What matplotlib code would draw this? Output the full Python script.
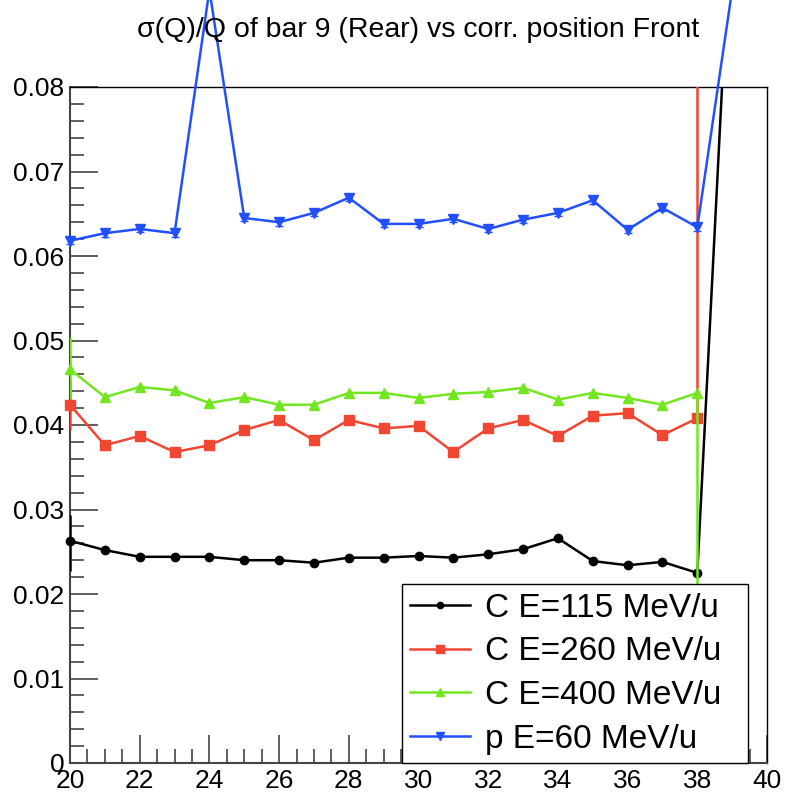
import matplotlib
matplotlib.use("Agg")
import matplotlib.pyplot as plt
from matplotlib.lines import Line2D
from matplotlib.ticker import MultipleLocator

plt.rcParams['font.family'] = ['Liberation Sans', 'DejaVu Sans']

# corrected position (Front), one point per bar position
positions = list(range(20, 39))
tail_x = 39

labels = ["C E=115 MeV/u", "C E=260 MeV/u", "C E=400 MeV/u", "p E=60 MeV/u"]

c115 = [0.0263, 0.0252, 0.0244, 0.0244, 0.0244, 0.0240, 0.0240, 0.0237, 0.0243, 0.0243,
        0.0245, 0.0243, 0.0247, 0.0253, 0.0266, 0.0239, 0.0234, 0.0238, 0.0225]
c260 = [0.0424, 0.0376, 0.0387, 0.0368, 0.0376, 0.0394, 0.0406, 0.0382, 0.0406, 0.0396,
        0.0399, 0.0368, 0.0396, 0.0406, 0.0387, 0.0411, 0.0414, 0.0388, 0.0408]
c400 = [0.0466, 0.0433, 0.0445, 0.0441, 0.0426, 0.0433, 0.0424, 0.0424, 0.0438, 0.0438,
        0.0432, 0.0437, 0.0439, 0.0444, 0.0430, 0.0438, 0.0432, 0.0424, 0.0438]
p60 = [0.0618, 0.0627, 0.0632, 0.0627, 0.0915, 0.0645, 0.0640, 0.0651, 0.0669, 0.0638,
       0.0638, 0.0644, 0.0632, 0.0643, 0.0651, 0.0666, 0.0631, 0.0657, 0.0634]

# values past the last bar (graph runs off the frame)
c115_tail = 0.1035
p60_tail = 0.0915

# errors (lower, upper)
c115_err = ([0.0036] + [0] * 18, [0.0030] + [0] * 18)
c260_err = ([0.0030] + [0] * 17 + [0], [0.0030] + [0] * 17 + [0.06])
c400_err = ([0.0035] + [0] * 17 + [0.03], [0.0038] + [0] * 17 + [0])
p60_err = [0.0004] * 19

colors = ['black', '#f04632', '#72e620', '#2250ff']
markers = ['o', 's', '^', 'v']
msizes = [6, 7, 7, 7]

fig = plt.figure(figsize=(7.86, 7.95), dpi=100)
ax = fig.add_axes([70 / 786, 1 - 763 / 795, (767 - 70) / 786, (763 - 87) / 795])

series = [c115, c260, c400, p60]
errs = [c115_err, c260_err, c400_err, p60_err]
for i, (vals, err) in enumerate(zip(series, errs)):
    xs = list(positions)
    ys = list(vals)
    if i == 0:
        xs.append(tail_x)
        ys.append(c115_tail)
    if i == 3:
        xs.append(tail_x)
        ys.append(p60_tail)
    unclipped = (i == 3)
    ax.plot(xs, ys, color=colors[i], lw=1.8, clip_on=not unclipped, zorder=3 + i)
    ax.errorbar(positions, vals, yerr=err, fmt='none', ecolor=colors[i], elinewidth=1.8,
                capsize=3 if i == 3 else 0, clip_on=not unclipped, zorder=3 + i)
    ax.plot(positions, vals, ls='none', marker=markers[i], ms=msizes[i], color=colors[i],
            clip_on=False, zorder=3 + i)

ax.set_xlim(20, 40)
ax.set_ylim(0, 0.08)
ax.xaxis.set_major_locator(MultipleLocator(2))
ax.xaxis.set_minor_locator(MultipleLocator(0.5))
ax.yaxis.set_major_locator(MultipleLocator(0.01))
ax.yaxis.set_minor_locator(MultipleLocator(0.002))
ax.yaxis.set_major_formatter(matplotlib.ticker.FuncFormatter(lambda v, p: '0' if v == 0 else f'{v:.2f}'))

ax.tick_params(which='both', direction='in', top=False, right=False, labelsize=19, colors='#444444',
               labelcolor='black')
ax.tick_params(which='major', length=20, width=1.2, pad=4)
ax.tick_params(which='minor', length=10, width=1.2)
for s in ['left', 'bottom']:
    ax.spines[s].set_color('#444444')
    ax.spines[s].set_linewidth(1.5)
for s in ['top', 'right']:
    ax.spines[s].set_color('black')
    ax.spines[s].set_linewidth(1.0)

handles = [Line2D([], [], color=colors[i], lw=1.8, marker=markers[i], ms=msizes[i] - 1.5)
           for i in range(4)]
leg = ax.legend(handles, labels, loc='lower left', bbox_to_anchor=(0.476, 0.0, 0.4965, 0.265),
                mode='expand', fontsize=24, frameon=True, fancybox=False, framealpha=1,
                edgecolor='black', handlelength=1.8, handletextpad=0.45, labelspacing=0.38,
                borderpad=0.25, borderaxespad=0)
leg.get_frame().set_linewidth(1.0)
leg.set_zorder(10)

fig.text(418 / 786, 1 - 30 / 795, "σ(Q)/Q of bar 9 (Rear) vs corr. position Front",
         ha='center', va='center', fontsize=20.5)

fig.savefig('out.png', dpi=100)
